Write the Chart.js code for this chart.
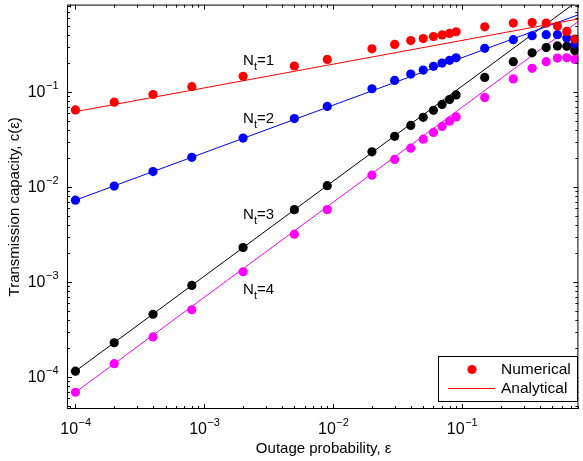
<!DOCTYPE html>
<html>
<head>
<meta charset="utf-8">
<script src="https://cdn.jsdelivr.net/npm/chart.js@4.4.1/dist/chart.umd.min.js"></script>
<style>
  body { margin: 0; background: #fff; }
  canvas { display: block; }
</style>
</head>
<body>
<canvas id="grafico" width="583" height="461"></canvas>
<script>
// outage probability values of the simulated points
const eps = [1e-4, 2e-4, 4e-4, 8e-4, 2e-3, 5e-3, 9e-3, 0.02, 0.03, 0.04, 0.05,
             0.06, 0.07, 0.08, 0.09, 0.15, 0.25, 0.35, 0.45, 0.55, 0.65, 0.75];

// numerical transmission capacity
const numNt1 = [0.0646, 0.078, 0.094, 0.1135, 0.146, 0.1875, 0.22, 0.284, 0.316, 0.347, 0.364,
                0.382, 0.398, 0.413, 0.43, 0.484, 0.53, 0.537, 0.53, 0.493, 0.433, 0.36];
const numNt2 = [0.00726, 0.0102, 0.0145, 0.0205, 0.0327, 0.0524, 0.0703, 0.108, 0.132, 0.154, 0.17,
                0.186, 0.201, 0.215, 0.229, 0.288, 0.355, 0.39, 0.40, 0.40, 0.37, 0.32];
const numNt3 = [1.15e-4, 2.29e-4, 4.57e-4, 9.2e-4, 2.3e-3, 5.77e-3, 0.0103, 0.0234, 0.0341, 0.0444, 0.054,
                0.064, 0.0738, 0.083, 0.093, 0.142, 0.208, 0.258, 0.293, 0.305, 0.302, 0.273];
const numNt4 = [6.9e-5, 1.38e-4, 2.64e-4, 5.1e-4, 1.28e-3, 3.18e-3, 5.77e-3, 0.0133, 0.0195, 0.0256, 0.0318,
                0.0375, 0.0433, 0.0492, 0.0546, 0.0873, 0.137, 0.177, 0.208, 0.227, 0.229, 0.22];

// analytical curves (straight lines on log-log), end points
const epsLinha = [1e-4, 0.8];
const anaNt1 = [0.062, 0.586];
const anaNt2 = [0.00726, 0.649];
const anaNt3 = [1.15e-4, 0.92];
const anaNt4 = [6.9e-5, 0.552];

const cores = ["#ff0000", "#0000ff", "#000000", "#ff00ff"];
const rotulos = ["1", "2", "3", "4"];
// where the N_t labels sit (x, y in data units, baseline-left)
const rotuloX = [2e-3, 2e-3, 2e-3, 2e-3];
const rotuloY = [0.192, 0.0468, 4.57e-3, 7.4e-4];

const expoentes = [-4, -3, -2, -1];

function pares(xs, ys) {
    return xs.map((x, i) => ({ x: x, y: ys[i] }));
}

const numericos = [numNt1, numNt2, numNt3, numNt4];
const analiticos = [anaNt1, anaNt2, anaNt3, anaNt4];
const datasets = [];

numericos.forEach((serie, i) => {
    datasets.push({
        data: pares(eps, serie),
        showLine: false,
        pointRadius: 4.6,
        pointBackgroundColor: cores[i],
        pointBorderWidth: 0,
        clip: 0,
        order: 0
    });
});
analiticos.forEach((serie, i) => {
    datasets.push({
        data: pares(epsLinha, serie),
        showLine: true,
        borderColor: cores[i],
        borderWidth: 1,
        pointRadius: 0,
        clip: 0,
        order: 1
    });
});

const FONTE = '"Liberation Sans", Arial, sans-serif';

function potencia(ctx, x, y, exp, alinhamento) {
    ctx.font = "16px " + FONTE;
    const base = "10";
    const wBase = ctx.measureText(base).width;
    ctx.font = "11px " + FONTE;
    const sup = "\u2212" + Math.abs(exp);
    const wSup = ctx.measureText(sup).width;
    const total = wBase + wSup;
    let x0 = alinhamento === "center" ? x - total / 2 : x - total;
    ctx.textAlign = "left";
    ctx.textBaseline = "alphabetic";
    ctx.font = "16px " + FONTE;
    ctx.fillText(base, x0, y);
    ctx.font = "11px " + FONTE;
    ctx.fillText(sup, x0 + wBase + 0.5, y - 8);
}

const eixos = {
    id: "eixos",
    afterDraw(chart) {
        const ctx = chart.ctx;
        const a = chart.chartArea;
        const sx = chart.scales.x, sy = chart.scales.y;
        ctx.save();
        ctx.fillStyle = "#000";
        ctx.strokeStyle = "#000";
        ctx.lineWidth = 1;

        // box
        ctx.strokeRect(a.left + 0.5, a.top + 0.5, a.right - a.left - 1, a.bottom - a.top - 1);

        // inward ticks on all sides
        ctx.beginPath();
        for (let e = -5; e <= 0; e++) {
            for (let k = 1; k <= 9; k++) {
                const v = k * Math.pow(10, e);
                const len = k === 1 ? 5 : 3;
                if (v >= sx.min && v <= sx.max) {
                    const px = Math.round(sx.getPixelForValue(v)) + 0.5;
                    ctx.moveTo(px, a.bottom); ctx.lineTo(px, a.bottom - len);
                    ctx.moveTo(px, a.top); ctx.lineTo(px, a.top + len);
                }
                if (v >= sy.min && v <= sy.max) {
                    const py = Math.round(sy.getPixelForValue(v)) + 0.5;
                    ctx.moveTo(a.left, py); ctx.lineTo(a.left + len, py);
                    ctx.moveTo(a.right, py); ctx.lineTo(a.right - len, py);
                }
            }
        }
        ctx.stroke();

        // tick labels
        expoentes.forEach(e => {
            const v = Math.pow(10, e);
            potencia(ctx, sx.getPixelForValue(v), 434, e, "center");
            potencia(ctx, 58, sy.getPixelForValue(v) + 5.5, e, "right");
        });

        // axis titles
        ctx.font = "15px " + FONTE;
        ctx.textAlign = "center";
        ctx.textBaseline = "alphabetic";
        ctx.fillText("Outage probability, \u03b5", (a.left + a.right) / 2 + 1, 453);
        ctx.save();
        ctx.translate(19, (a.top + a.bottom) / 2);
        ctx.rotate(-Math.PI / 2);
        ctx.fillText("Transmission capacity, c(\u03b5)", 0, 0);
        ctx.restore();

        // N_t labels
        rotulos.forEach((r, i) => {
            const x = sx.getPixelForValue(rotuloX[i]);
            const y = sy.getPixelForValue(rotuloY[i]);
            ctx.textAlign = "left";
            ctx.font = "15px " + FONTE;
            ctx.fillText("N", x, y);
            let w = ctx.measureText("N").width;
            ctx.font = "11px " + FONTE;
            ctx.fillText("t", x + w, y + 5);
            w += ctx.measureText("t").width;
            ctx.font = "15px " + FONTE;
            ctx.fillText("=" + r, x + w, y);
        });

        // legend
        ctx.fillStyle = "#fff";
        ctx.fillRect(438, 356, 139, 45);
        ctx.strokeStyle = "#000";
        ctx.strokeRect(438.5, 356.5, 139, 45);
        ctx.fillStyle = "#ff0000";
        ctx.beginPath();
        ctx.arc(472, 369.5, 4.6, 0, Math.PI * 2);
        ctx.fill();
        ctx.strokeStyle = "#ff0000";
        ctx.beginPath();
        ctx.moveTo(448, 388.5); ctx.lineTo(495, 388.5);
        ctx.stroke();
        ctx.fillStyle = "#000";
        ctx.font = "15.5px " + FONTE;
        ctx.textAlign = "left";
        ctx.textBaseline = "middle";
        ctx.fillText("Numerical", 501, 370);
        ctx.fillText("Analytical", 501, 389);
        ctx.restore();
    }
};

new Chart(document.getElementById("grafico").getContext("2d"), {
    type: "scatter",
    data: { datasets: datasets },
    options: {
        responsive: false,
        animation: false,
        events: [],
        layout: { padding: { top: 1, right: 1, left: 0, bottom: 0 } },
        plugins: { legend: { display: false }, tooltip: { enabled: false } },
        scales: {
            x: {
                type: "logarithmic",
                min: 8.6e-5,
                max: 0.8,
                ticks: { display: false },
                grid: { display: false },
                border: { display: false },
                afterFit(scale) { scale.height = 52; }
            },
            y: {
                type: "logarithmic",
                min: 4.6e-5,
                max: 0.83,
                ticks: { display: false },
                grid: { display: false },
                border: { display: false },
                afterFit(scale) { scale.width = 67; }
            }
        }
    },
    plugins: [eixos]
});
</script>
</body>
</html>
